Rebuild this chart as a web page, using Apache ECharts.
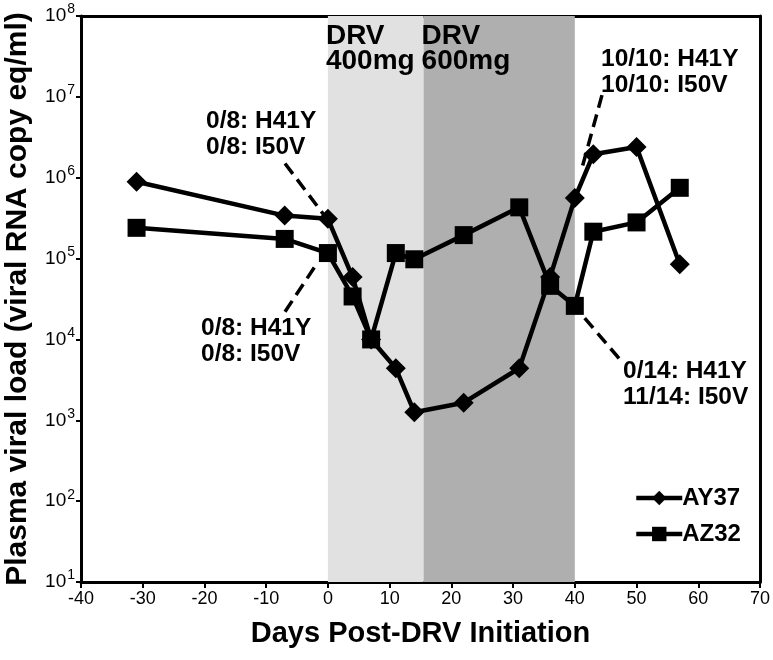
<!DOCTYPE html>
<html lang="en">
<head>
    <meta charset="UTF-8">
    <title>Plasma viral load</title>
    <style>
        * {
            margin: 0;
            padding: 0;
        }

        body {
            background-color: #fff;
        }

        #chart {
            width: 773px;
            height: 660px;
        }
    </style>
</head>
<body>
<div id="chart"></div>
<script src="https://cdn.jsdelivr.net/npm/echarts@6.0.0/dist/echarts.min.js"></script>
<script>
    // days post DRV initiation, shared by both animals
    var days = [-31, -7, 0, 4, 7, 11, 14, 22, 31, 36, 40, 43, 50, 57];
    var ay37 = [8.9e5, 3.4e5, 3.1e5, 5.9e4, 1.0e4, 4.4e3, 1.26e3, 1.65e3, 4.4e3, 5.9e4, 5.6e5, 1.95e6, 2.4e6, 8.5e4];
    var az32 = [2.4e5, 1.75e5, 1.17e5, 3.4e4, 1.0e4, 1.17e5, 9.8e4, 1.95e5, 4.3e5, 4.6e4, 2.6e4, 2.15e5, 2.8e5, 7.5e5];

    // dosing periods [start day, end day]
    var dose400 = [0, 15.5];
    var dose600 = [15.5, 40];

    var xTicks = [-40, 70, 10];          // min, max, interval
    var yTicks = [10, 1e8];              // min, max (log)

    // dashed leader lines, each [[day, load], [day, load]]
    var leaders = [
        [[-6.95, 1.5e6], [-0.3, 3.2e5]],
        [[-6.95, 2.2e4], [-1.6, 9.1e4]],
        [[44.4, 1.05e7], [41.2, 1.35e6]],
        [[41.6, 1.84e4], [47.8, 5.1e3]]
    ];
    var leaderText = [
        '0/8: H41Y\n0/8: I50V',
        '0/8: H41Y\n0/8: I50V',
        '10/10: H41Y\n10/10: I50V',
        '0/14: H41Y\n11/14: I50V'
    ];

    var font = 'Liberation Sans, Arial, sans-serif';
    var chart = echarts.init(document.getElementById('chart'));

    function pairs(xs, ys) {
        return xs.map(function (x, i) { return [x, ys[i]]; });
    }

    var series = [
        {
            name: 'AY37',
            type: 'line',
            data: pairs(days, ay37),
            symbol: 'diamond',
            symbolSize: [20, 20],
            lineStyle: { color: '#000', width: 4.5 },
            itemStyle: { color: '#000' },
            z: 5,
            markArea: {
                silent: true,
                label: {
                    position: 'insideTopLeft',
                    distance: 0,
                    offset: [-2, 8],
                    color: '#000',
                    fontFamily: font,
                    fontWeight: 'bold',
                    fontSize: 28,
                    lineHeight: 25
                },
                data: [
                    [{ xAxis: dose400[0], name: 'DRV\n400mg', itemStyle: { color: '#e1e1e1' } }, { xAxis: dose400[1] }],
                    [{ xAxis: dose600[0], name: 'DRV\n600mg', itemStyle: { color: '#afafaf' } }, { xAxis: dose600[1] }]
                ]
            }
        },
        {
            name: 'AZ32',
            type: 'line',
            data: pairs(days, az32),
            symbol: 'rect',
            symbolSize: 18,
            lineStyle: { color: '#000', width: 4.5 },
            itemStyle: { color: '#000' },
            z: 5
        }
    ];

    leaders.forEach(function (seg, i) {
        series.push({
            name: 'leader' + i,
            type: 'line',
            data: seg,
            symbol: 'none',
            silent: true,
            lineStyle: { color: '#000', width: 3.5, type: [13, 7] },
            z: 4
        });
    });

    // annotation text boxes (pixel layout)
    var textPos = [[206, 108], [201, 315], [601, 46], [623, 358]];
    var graphics = leaderText.map(function (t, i) {
        return {
            type: 'text',
            left: textPos[i][0],
            top: textPos[i][1],
            style: {
                text: t,
                fill: '#000',
                font: 'bold 24.5px ' + font,
                lineHeight: 26
            }
        };
    });

    var frameLine = { show: true, onZero: false, lineStyle: { color: '#000', width: 3 } };

    chart.setOption({
        animation: false,
        backgroundColor: '#fff',
        grid: {
            left: 81,
            right: 13,
            top: 16,
            bottom: 78,
            containLabel: false,
            outerBoundsMode: 'none'
        },
        legend: {
            data: ['AY37', 'AZ32'],
            orient: 'vertical',
            left: 629,
            top: 481,
            itemWidth: 46,
            itemHeight: 18,
            itemGap: 12,
            lineStyle: { width: 4.5 },
            textStyle: {
                color: '#000',
                fontFamily: font,
                fontWeight: 'bold',
                fontSize: 24,
                lineHeight: 23,
                padding: [0, 0, 0, -5]
            }
        },
        xAxis: [{
            type: 'value',
            min: xTicks[0],
            max: xTicks[1],
            interval: xTicks[2],
            name: 'Days Post-DRV Initiation',
            nameLocation: 'middle',
            nameGap: 37,
            nameTextStyle: {
                color: '#000',
                fontFamily: font,
                fontWeight: 'bold',
                fontSize: 29
            },
            axisLine: frameLine,
            axisTick: { show: true, length: 6, lineStyle: { color: '#000', width: 2 } },
            axisLabel: { color: '#000', fontFamily: font, fontSize: 18, margin: 8 },
            splitLine: { show: false }
        }, {
            type: 'value',
            position: 'top',
            min: xTicks[0],
            max: xTicks[1],
            axisLine: frameLine,
            axisTick: { show: false },
            axisLabel: { show: false },
            splitLine: { show: false }
        }],
        yAxis: [{
            type: 'log',
            logBase: 10,
            min: yTicks[0],
            max: yTicks[1],
            name: 'Plasma viral load (viral RNA copy eq/ml)',
            nameLocation: 'middle',
            nameGap: 48,
            nameTextStyle: {
                color: '#000',
                fontFamily: font,
                fontWeight: 'bold',
                fontSize: 30
            },
            axisLine: frameLine,
            axisTick: { show: true, length: 5, lineStyle: { color: '#000', width: 2 } },
            axisLabel: {
                margin: 6,
                formatter: function (v) {
                    var e = Math.round(Math.log10(v));
                    return '{b|10}{e|' + e + '}';
                },
                rich: {
                    b: { color: '#000', fontFamily: font, fontSize: 19 },
                    e: { color: '#000', fontFamily: font, fontSize: 14, padding: [0, 0, 13, 1] }
                }
            },
            splitLine: { show: false },
            minorTick: { show: false }
        }, {
            type: 'log',
            position: 'right',
            min: yTicks[0],
            max: yTicks[1],
            axisLine: frameLine,
            axisTick: { show: false },
            axisLabel: { show: false },
            splitLine: { show: false }
        }],
        graphic: graphics,
        series: series
    });
</script>
</body>
</html>
